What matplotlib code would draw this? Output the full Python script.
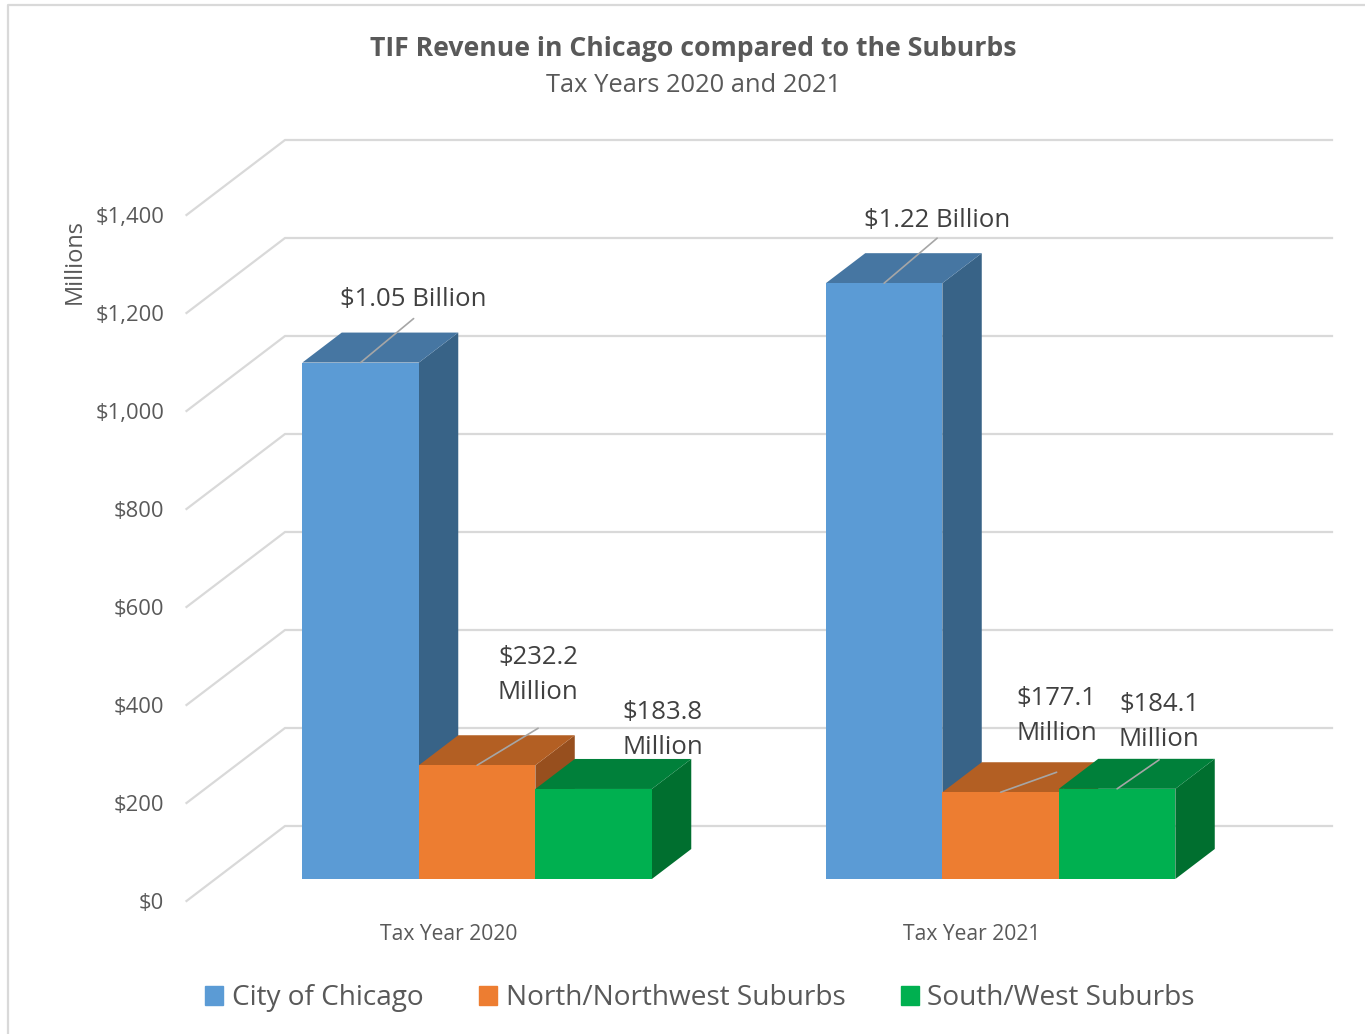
import matplotlib
matplotlib.use("Agg")
import matplotlib.pyplot as plt
from matplotlib.patches import Patch
from matplotlib.lines import Line2D

W, H = 1365, 1034

# data, millions of dollars
years = ["Tax Year 2020", "Tax Year 2021"]
series = ["City of Chicago", "North/Northwest Suburbs", "South/West Suburbs"]
chicago = [1054, 1216]
north = [232.2, 177.1]
south = [183.8, 184.1]
value_ticks = [0, 200, 400, 600, 800, 1000, 1200, 1400]
labels_2020 = ["$1.05 Billion", "$232.2\nMillion", "$183.8\nMillion"]
labels_2021 = ["$1.22 Billion", "$177.1\nMillion", "$184.1\nMillion"]

# label offset from the bar top, in pixels (x, y, leader end y or None)
offsets_2020 = [(53, 63, 44), (61, 90, 37), (69, 59, None)]
offsets_2021 = [(53, 63, 45), (56, 76, 20), (42, 67, 29)]

faces = [("#5B9BD5", "#4676A2", "#386387"),
         ("#ED7D31", "#B35F23", "#974F1E"),
         ("#00B050", "#00803A", "#006F2F")]

plt.rcParams["font.family"] = ["Open Sans", "DejaVu Sans"]
fig = plt.figure(figsize=(W / 100, H / 100), dpi=100)
fig.add_artist(Line2D([8 / W, 8 / W, 1], [0, 1 - 5 / H, 1 - 5 / H], color="#D9D9D9", lw=1.6))

# axes is the front plane of the 3d box, the back wall is shifted by depth
ax = fig.add_axes([186.5 / W, (H - 901) / H, 1047 / W, 686 / H])
ax.set_xlim(-0.5, 1.5)
ax.set_ylim(0, 1400)
for s in ax.spines.values():
    s.set_visible(False)
ax.patch.set_visible(False)

depth_x = 98.5 / (1047 / 2)
depth_y = 75 / (686 / 1400)
bar_w = 116.5 / (1047 / 2)
bar_front = 0.293
bar_depth = 0.4

for v in value_ticks:
    ax.plot([-0.5, -0.5 + depth_x, 1.5 + depth_x], [v, v + depth_y, v + depth_y],
            color="#D9D9D9", lw=1.6, clip_on=False, zorder=1, solid_joinstyle="miter")


def bar3d(x, v, colors):
    front, top, side = colors
    x0 = x - bar_w / 2 + bar_front * depth_x
    x1 = x0 + bar_w
    y0 = bar_front * depth_y
    ddx = bar_depth * depth_x
    ddy = bar_depth * depth_y
    ax.fill([x1, x1 + ddx, x1 + ddx, x1], [y0, y0 + ddy, y0 + v + ddy, y0 + v],
            color=side, lw=0, clip_on=False, zorder=2)
    ax.fill([x0, x1, x1 + ddx, x0 + ddx], [y0 + v, y0 + v, y0 + v + ddy, y0 + v + ddy],
            color=top, lw=0, clip_on=False, zorder=2)
    ax.bar(x0 + bar_w / 2, v, bar_w, bottom=y0, color=front, lw=0, clip_on=False, zorder=2)
    return x0 + bar_w / 2, y0 + v


rows = [chicago, north, south]
for i in range(2):
    labels = [labels_2020, labels_2021][i]
    offsets = [offsets_2020, offsets_2021][i]
    for j in range(3):
        tx, ty = bar3d(i + (j - 1) * bar_w, rows[j][i], faces[j])
        ox, oy, lead = offsets[j]
        ax.annotate(labels[j], (tx, ty), xytext=(ox, oy), textcoords="offset pixels",
                    ha="center", va="center", fontsize=18.5, color="#404040",
                    linespacing=1.52, zorder=5, annotation_clip=False)
        if lead is not None:
            ax.annotate("", (tx, ty), xytext=(ox, lead), textcoords="offset pixels",
                        arrowprops=dict(arrowstyle="-", color="#A6A6A6", lw=1.2,
                                        shrinkA=0, shrinkB=0), zorder=4, annotation_clip=False)

ax.set_yticks(value_ticks)
ax.set_yticklabels(["${:,}".format(v) for v in value_ticks], fontsize=15.8, color="#595959")
ax.set_xticks([0, 1])
ax.set_xticklabels(years, fontsize=15.2, color="#595959")
ax.tick_params(axis="y", length=0, pad=16)
ax.tick_params(axis="x", length=0, pad=16.7)

fig.text(74.5 / W, 1 - 262 / H, "Millions", rotation=90, ha="center", va="center",
         fontsize=17, color="#595959")
fig.text(693.5 / W, 1 - 49.5 / H, "TIF Revenue in Chicago compared to the Suburbs",
         ha="center", va="center", fontsize=19.2, fontweight="bold", color="#595959")
fig.text(694 / W, 1 - 85.5 / H, "Tax Years 2020 and 2021",
         ha="center", va="center", fontsize=18.4, color="#595959")

handles = [Patch(color=f[0]) for f in faces]
fig.legend(handles, series, loc="center", bbox_to_anchor=(700 / W, 1 - 998 / H), ncol=3,
           frameon=False, fontsize=20.2, labelcolor="#595959", handlelength=0.65,
           handleheight=0.65, handletextpad=0.3, columnspacing=1.98)

fig.savefig("out.png", dpi=100)
